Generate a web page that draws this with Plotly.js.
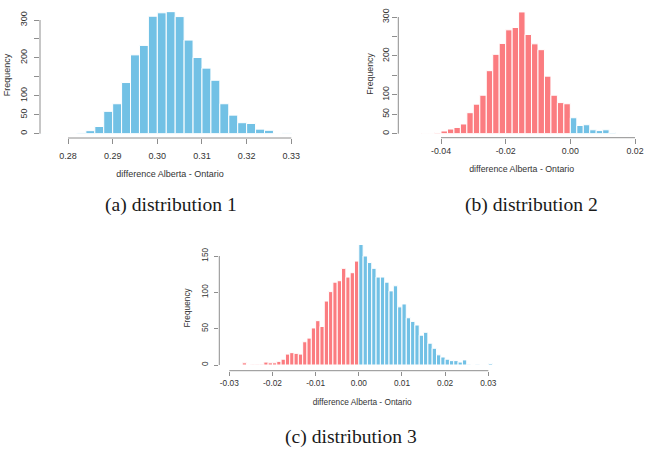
<!DOCTYPE html>
<html>
<head>
<meta charset="utf-8">
<script src="https://cdn.plot.ly/plotly-3.0.1.min.js"></script>
<style>
  html, body { margin: 0; padding: 0; background: #fff; }
  #chart { width: 651px; height: 460px; }
</style>
</head>
<body>
<div id="chart"></div>
<script>
// Histogram of bootstrap differences, one count per bin.
const binWidth1 = 0.002;
const binStart1 = 0.274;
const counts1 = [1, 0, 1, 1, 3, 8, 19, 59, 79, 135, 208, 233, 310, 319, 322, 309,
                 247, 201, 173, 141, 79, 49, 29, 27, 12, 9, 1, 2];

const binWidth2 = 0.002;
const binStart2 = -0.046;
const counts2 = [1, 1, 3, 7, 12, 16, 25, 54, 76, 99, 162, 204, 232, 267, 273, 313,
                 255, 231, 216, 148, 99, 80, 77, 41, 21, 23, 10, 8, 10, 3, 1, 1];

const binWidth3 = 0.001;
const binStart3 = -0.030;
const counts3 = [0, 0, 0, 3, 0, 1, 1, 1, 4, 3, 3, 5, 8, 15, 17, 16, 15, 32, 37, 51,
                 61, 53, 88, 101, 114, 116, 133, 121, 127, 143,
                 167, 150, 141, 133, 121, 121, 114, 102, 109, 80, 84, 65, 60, 55, 41,
                 45, 30, 23, 14, 11, 8, 6, 6, 4, 7, 1, 0, 1, 0, 0, 2];

const xTicks1 = [0.28, 0.29, 0.30, 0.31, 0.32, 0.33];
const xTickText1 = ['0.28', '0.29', '0.30', '0.31', '0.32', '0.33'];
const xTicks2 = [-0.04, -0.02, 0.00, 0.02];
const xTickText2 = ['-0.04', '-0.02', '0.00', '0.02'];
const xTicks3 = [-0.03, -0.02, -0.01, 0.00, 0.01, 0.02, 0.03];
const xTickText3 = ['-0.03', '-0.02', '-0.01', '0.00', '0.01', '0.02', '0.03'];
const yTicks12 = [0, 50, 100, 150, 200, 250, 300];
const yTickText12 = ['0', '50', '100', '', '200', '', '300'];
const yTicks3 = [0, 50, 100, 150];
const yTickText3 = ['0', '50', '100', '150'];

const xLabel = 'difference Alberta - Ontario';
const yLabel = 'Frequency';
const captions = ['(a) distribution 1', '(b) distribution 2', '(c) distribution 3'];

// ---- drawing ----
const W = 651, H = 460;
const BLUE = '#72c1e5';
const RED = '#fb7c80';
const AXIS_GREY = '#8e8e8e';
const TEXT = '#333333';

// linear map from a pixel position to a data value, given two reference points
function calib(v1, p1, v2, p2) {
  return p => v1 + (p - p1) * (v2 - v1) / (p2 - p1);
}

function sans(size) {
  return { family: 'Liberation Sans, Arial, sans-serif', size: size, color: TEXT };
}

// o: per-panel text sizing and spacing
function xAxis(cal, pxL, pxR, yName, vals, text, o) {
  return {
    domain: [pxL / W, pxR / W], range: [cal(pxL), cal(pxR)], anchor: yName,
    showgrid: false, zeroline: false, showline: false,
    ticks: 'outside', ticklen: o.ticklen, tickwidth: 1, tickcolor: AXIS_GREY,
    tickmode: 'array', tickvals: vals, ticktext: text, tickfont: sans(o.font),
    ticklabelstandoff: o.xlab, fixedrange: true,
    title: { text: xLabel, font: sans(o.font), standoff: o.xtitle }
  };
}

function yAxis(cal, pxTop, pxBot, xName, vals, text, o) {
  return {
    domain: [1 - pxBot / H, 1 - pxTop / H], range: [cal(pxBot), cal(pxTop)], anchor: xName,
    showgrid: false, zeroline: false, showline: false,
    ticks: 'outside', ticklen: o.ticklen, tickwidth: 1, tickcolor: AXIS_GREY,
    tickmode: 'array', tickvals: vals, ticktext: text, tickfont: sans(o.font),
    tickangle: -90, ticklabelstandoff: o.ylab, fixedrange: true,
    title: { text: yLabel, font: sans(o.font), standoff: o.ytitle }
  };
}

function bars(start, bw, counts, xa, ya) {
  const x = counts.map((_, i) => start + (i + 0.5) * bw);
  const color = counts.map((_, i) => (start + i * bw < -1e-12 ? RED : BLUE));
  return {
    type: 'bar', x: x, y: counts, width: bw, xaxis: xa, yaxis: ya,
    marker: { color: color, line: { color: '#ffffff', width: 1 } },
    hoverinfo: 'skip', showlegend: false
  };
}

// R-style axis lines that run only between the first and last tick
function axisLines(xa, ya, xt, yt, pxAxisX, pxAxisY) {
  return [
    { type: 'line', xref: xa, yref: 'paper', x0: xt[0], x1: xt[xt.length - 1],
      y0: 1 - pxAxisY / H, y1: 1 - pxAxisY / H, line: { color: AXIS_GREY, width: 1 } },
    { type: 'line', xref: 'paper', yref: ya, x0: pxAxisX / W, x1: pxAxisX / W,
      y0: yt[0], y1: yt[yt.length - 1], line: { color: AXIS_GREY, width: 1 } }
  ];
}

// panel geometry (pixels)
const cx1 = calib(0.28, 68, 0.33, 291.3), cy1 = calib(0, 133.7, 300, 20);
const cx2 = calib(-0.04, 441, 0.02, 635), cy2 = calib(0, 133.7, 300, 17);
const cx3 = calib(-0.03, 229.3, 0.03, 488.3), cy3 = calib(0, 365, 150, 256);

const style1 = { font: 9, ticklen: 5, xlab: 4, xtitle: 10, ylab: 3, ytitle: 7 };
const style2 = { font: 8.8, ticklen: 5, xlab: 3.5, xtitle: 10, ylab: 5.5, ytitle: 5 };
const style3 = { font: 8.3, ticklen: 4, xlab: 1.5, xtitle: 12.5, ylab: 3, ytitle: 8 };

const data = [
  bars(binStart1, binWidth1, counts1, 'x', 'y'),
  bars(binStart2, binWidth2, counts2, 'x2', 'y2'),
  bars(binStart3, binWidth3, counts3, 'x3', 'y3')
];

const capFont = { family: 'Liberation Serif, Times New Roman, serif', size: 19.6, color: '#1a1a1a' };

const layout = {
  width: W, height: H,
  margin: { l: 0, r: 0, t: 0, b: 0 },
  paper_bgcolor: '#ffffff', plot_bgcolor: 'rgba(0,0,0,0)',
  showlegend: false,
  xaxis: xAxis(cx1, 40, 300, 'y', xTicks1, xTickText1, style1),
  yaxis: yAxis(cy1, 12, 138, 'x', yTicks12, yTickText12, style1),
  xaxis2: xAxis(cx2, 398.3, 645, 'y2', xTicks2, xTickText2, style2),
  yaxis2: yAxis(cy2, 10, 137.7, 'x2', yTicks12, yTickText12, style2),
  xaxis3: xAxis(cx3, 219.3, 505, 'y3', xTicks3, xTickText3, style3),
  yaxis3: yAxis(cy3, 245, 370.7, 'x3', yTicks3, yTickText3, style3),
  shapes: [].concat(
    axisLines('x', 'y', xTicks1, yTicks12, 40, 138),
    axisLines('x2', 'y2', xTicks2, yTicks12, 398.3, 137.7),
    axisLines('x3', 'y3', xTicks3, yTicks3, 219.3, 370.7)
  ),
  annotations: [
    { text: captions[0], x: 171 / W, y: 1 - 205 / H },
    { text: captions[1], x: 531 / W, y: 1 - 205 / H },
    { text: captions[2], x: 351 / W, y: 1 - 437 / H }
  ].map(a => Object.assign(a, {
    xref: 'paper', yref: 'paper', xanchor: 'center', yanchor: 'middle',
    showarrow: false, font: capFont
  }))
};

Plotly.newPlot('chart', data, layout, { staticPlot: true, displayModeBar: false });
</script>
</body>
</html>
